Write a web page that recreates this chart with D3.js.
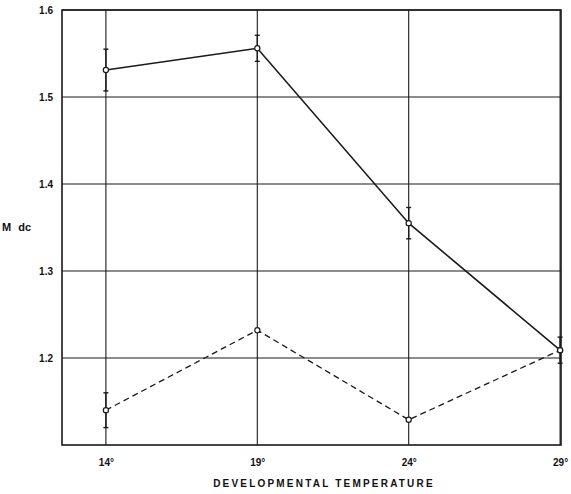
<!DOCTYPE html>
<html>
<head>
<meta charset="utf-8">
<script src="https://cdn.jsdelivr.net/npm/d3@7"></script>
<style>
  body { margin: 0; background: #fff; }
  text { font-family: "Liberation Sans", Arial, sans-serif; fill: #111; }
</style>
</head>
<body>
<div id="chart"></div>
<script>
// temperatures (deg C)
const temps = [14, 19, 24, 29];
const tempLabels = ["14°", "19°", "24°", "29°"];
// solid series, with error bar half-widths
const solidValues = [1.531, 1.556, 1.355, 1.209];
const solidErr = [0.024, 0.015, 0.018, 0.015];
// dashed series
const dashedValues = [1.140, 1.232, 1.129, 1.209];
const dashedErr = [0.02, 0, 0, 0];
const yTicks = [1.2, 1.3, 1.4, 1.5, 1.6];

const width = 571, height = 494;
const margin = {top: 10, right: 10, bottom: 49, left: 62};

const svg = d3.select("#chart").append("svg")
  .attr("width", width)
  .attr("height", height);

const x = d3.scaleLinear()
  .domain([12.55, 29.03])
  .range([margin.left, width - margin.right]);

const y = d3.scaleLinear()
  .domain([1.1, 1.6])
  .range([height - margin.bottom, margin.top]);

const ink = "#1a1a1a";

// grid
svg.append("g")
  .selectAll("line")
  .data(yTicks)
  .enter().append("line")
  .attr("x1", margin.left)
  .attr("x2", width - margin.right)
  .attr("y1", function (d) { return y(d); })
  .attr("y2", function (d) { return y(d); })
  .attr("stroke", ink)
  .attr("stroke-width", 1.2);

svg.append("g")
  .selectAll("line")
  .data(temps)
  .enter().append("line")
  .attr("x1", function (d) { return x(d); })
  .attr("x2", function (d) { return x(d); })
  .attr("y1", margin.top)
  .attr("y2", height - margin.bottom)
  .attr("stroke", ink)
  .attr("stroke-width", 1.1);

// frame
svg.append("rect")
  .attr("x", margin.left)
  .attr("y", margin.top)
  .attr("width", width - margin.left - margin.right)
  .attr("height", height - margin.top - margin.bottom)
  .attr("fill", "none")
  .attr("stroke", ink)
  .attr("stroke-width", 1.6);

// axes (labels only)
const yAxis = d3.axisLeft(y)
  .tickValues(yTicks)
  .tickFormat(d3.format(".1f"))
  .tickSize(0)
  .tickPadding(9);

svg.append("g")
  .attr("transform", "translate(" + margin.left + ",0)")
  .call(yAxis)
  .call(function (g) { g.select(".domain").remove(); })
  .selectAll("text")
  .style("font-size", "10px")
  .style("font-weight", "bold")
  .style("font-family", "Liberation Sans, Arial, sans-serif");

const xAxis = d3.axisBottom(x)
  .tickValues(temps)
  .tickFormat(function (d, i) { return tempLabels[i]; })
  .tickSize(0)
  .tickPadding(14);

svg.append("g")
  .attr("transform", "translate(0," + (height - margin.bottom) + ")")
  .call(xAxis)
  .call(function (g) { g.select(".domain").remove(); })
  .selectAll("text")
  .style("font-size", "10px")
  .style("font-weight", "bold")
  .style("font-family", "Liberation Sans, Arial, sans-serif");

svg.append("text")
  .attr("x", 324)
  .attr("y", 487)
  .attr("text-anchor", "middle")
  .style("font-size", "10px")
  .style("font-weight", "bold")
  .style("letter-spacing", "2.2px")
  .text("DEVELOPMENTAL TEMPERATURE");

svg.append("text")
  .attr("x", 2)
  .attr("y", 231)
  .style("font-size", "11px")
  .style("font-weight", "bold")
  .style("word-spacing", "4px")
  .text("M dc");

// error bars
function errorBars(vals, errs) {
  const data = temps.map(function (t, i) { return {t: t, v: vals[i], e: errs[i]}; })
    .filter(function (d) { return d.e > 0; });
  const g = svg.append("g").attr("stroke", ink).attr("stroke-width", 1.4);
  g.selectAll(".bar").data(data).enter().append("line")
    .attr("x1", function (d) { return x(d.t); })
    .attr("x2", function (d) { return x(d.t); })
    .attr("y1", function (d) { return y(d.v - d.e); })
    .attr("y2", function (d) { return y(d.v + d.e); });
  g.selectAll(".capTop").data(data).enter().append("line")
    .attr("x1", function (d) { return x(d.t) - 2.5; })
    .attr("x2", function (d) { return x(d.t) + 2.5; })
    .attr("y1", function (d) { return y(d.v + d.e); })
    .attr("y2", function (d) { return y(d.v + d.e); });
  g.selectAll(".capBot").data(data).enter().append("line")
    .attr("x1", function (d) { return x(d.t) - 2.5; })
    .attr("x2", function (d) { return x(d.t) + 2.5; })
    .attr("y1", function (d) { return y(d.v - d.e); })
    .attr("y2", function (d) { return y(d.v - d.e); });
}
errorBars(solidValues, solidErr);
errorBars(dashedValues, dashedErr);

const line = d3.line()
  .x(function (d, i) { return x(temps[i]); })
  .y(function (d) { return y(d); });

svg.append("path")
  .datum(dashedValues)
  .attr("d", line)
  .attr("fill", "none")
  .attr("stroke", ink)
  .attr("stroke-width", 1.3)
  .attr("stroke-dasharray", "6,4");

svg.append("path")
  .datum(solidValues)
  .attr("d", line)
  .attr("fill", "none")
  .attr("stroke", ink)
  .attr("stroke-width", 1.6);

function points(vals) {
  svg.append("g")
    .selectAll("circle")
    .data(vals)
    .enter().append("circle")
    .attr("cx", function (d, i) { return x(temps[i]); })
    .attr("cy", function (d) { return y(d); })
    .attr("r", 2.6)
    .attr("fill", "#fff")
    .attr("stroke", ink)
    .attr("stroke-width", 1.2);
}
points(dashedValues);
points(solidValues);
</script>
</body>
</html>
